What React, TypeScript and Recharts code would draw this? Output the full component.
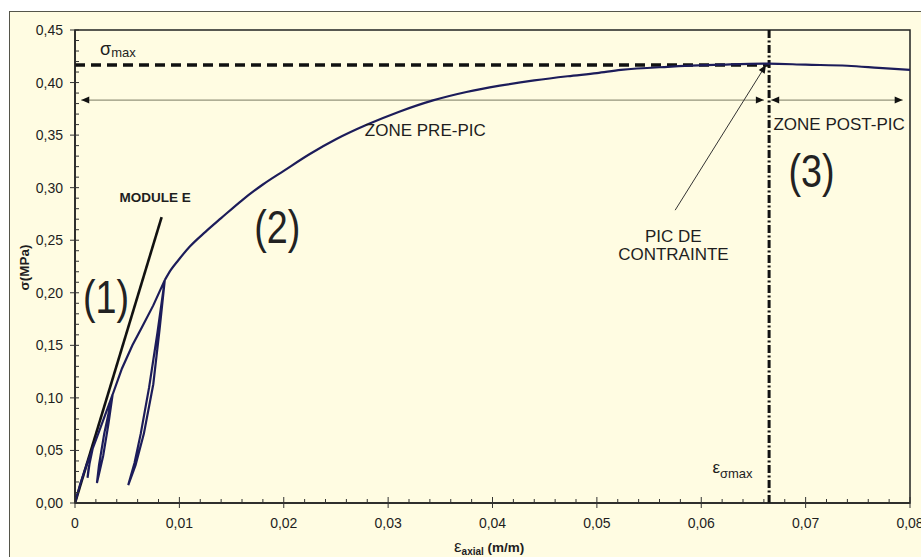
import React from 'react';
import { LineChart, Line, XAxis, YAxis, ReferenceLine, ReferenceDot, ReferenceArea } from 'recharts';

// ---- data ----
// loading path with unload/reload loops (eps [m/m], sigma [MPa])
const loopPath: [number, number][] = [
  [0, 0], [0.0005, 0.018], [0.0011, 0.036], [0.0017, 0.052],
  [0.0014, 0.038], [0.0012, 0.024], [0.0013, 0.033], [0.0017, 0.052],
  [0.0023, 0.068], [0.0029, 0.084], [0.0036, 0.103],
  [0.0032, 0.075], [0.0027, 0.045], [0.0021, 0.019],
  [0.0023, 0.036], [0.0028, 0.066], [0.0036, 0.103],
  [0.0045, 0.128], [0.0055, 0.15], [0.0064, 0.167], [0.0075, 0.188], [0.0086, 0.212],
  [0.0081, 0.165], [0.0075, 0.113], [0.0066, 0.066], [0.0058, 0.036], [0.0051, 0.017],
  [0.0057, 0.038], [0.0063, 0.066], [0.0071, 0.11], [0.0079, 0.162], [0.0086, 0.212],
];
// smooth envelope after the last loop
const envelope: [number, number][] = [
  [0.0086, 0.212], [0.0092, 0.222], [0.0099, 0.231], [0.011, 0.244], [0.0125, 0.258],
  [0.014, 0.271], [0.016, 0.288], [0.018, 0.303], [0.02, 0.316], [0.0225, 0.332],
  [0.025, 0.346], [0.028, 0.36], [0.031, 0.372], [0.0343, 0.383], [0.0375, 0.391],
  [0.0407, 0.397], [0.044, 0.402], [0.0472, 0.406], [0.05, 0.409], [0.0523, 0.412],
  [0.0568, 0.415], [0.062, 0.417], [0.0664, 0.418], [0.07, 0.417], [0.074, 0.416],
  [0.077, 0.414], [0.08, 0.412],
];
const moduleLine: [number, number][] = [[0, 0], [0.0083, 0.272]];
const sigmaMax = 0.4167;
const epsSigmaMax = 0.0665;
const zoneArrowY = 0.3833;
const preZone: [number, number] = [0.0006, 0.066];
const postZone: [number, number] = [0.0667, 0.0793];
const peakArrow: [number, number][] = [[0.0575, 0.2786], [0.0662, 0.4167]];

const xLabels = ['0', '0,01', '0,02', '0,03', '0,04', '0,05', '0,06', '0,07', '0,08'];
const yLabels = ['0,00', '0,05', '0,10', '0,15', '0,20', '0,25', '0,30', '0,35', '0,40', '0,45'];
const xTicks = Array.from({ length: 41 }, (_, i) => Number((i * 0.002).toFixed(3)));
const yTicks = Array.from({ length: 46 }, (_, i) => Number((i * 0.01).toFixed(2)));

const textNotes = [
  { e: 0.03356, s: 0.349, t: 'ZONE PRE-PIC', anchor: 'middle', size: 17, weight: 400 },
  { e: 0.06692, s: 0.3548, t: 'ZONE POST-PIC', anchor: 'start', size: 17, weight: 400 },
  { e: 0.00767, s: 0.2862, t: 'MODULE E', anchor: 'middle', size: 13.5, weight: 700 },
  { e: 0.05733, s: 0.2481, t: 'PIC DE', anchor: 'middle', size: 17, weight: 400 },
  { e: 0.05733, s: 0.231, t: 'CONTRAINTE', anchor: 'middle', size: 17, weight: 400 },
];
const zoneNumbers = [
  { e: 0.00297, s: 0.1805, t: '(1)' },
  { e: 0.01937, s: 0.2476, t: '(2)' },
  { e: 0.07057, s: 0.3005, t: '(3)' },
];

const FONT = "'Liberation Sans', Arial, sans-serif";
const INK = '#1e1e1e';

const toObjs = (arr: [number, number][]) => arr.map(([e, s]) => ({ e, s }));

const XTick = (props: any) => {
  const { x, y, payload } = props;
  const v = payload.value as number;
  const idx = Math.round(v * 100);
  const major = Math.abs(v * 100 - idx) < 1e-6;
  return (
    <g>
      <line x1={x} x2={x} y1={major ? y - 6 : y - 4} y2={major ? y + 5 : y + 1} stroke="#333" strokeWidth={1} />
      {major && (
        <text x={x} y={y + 25} textAnchor="middle" fontSize={14} fill={INK} fontFamily={FONT}>
          {xLabels[idx]}
        </text>
      )}
    </g>
  );
};

const YTick = (props: any) => {
  const { x, y, payload } = props;
  const v = payload.value as number;
  const idx = Math.round(v * 100);
  const major = idx % 5 === 0;
  return (
    <g>
      <line x1={major ? x - 5 : x} x2={x + 4} y1={y} y2={y} stroke="#333" strokeWidth={1} />
      {major && (
        <text x={x - 12} y={y + 5} textAnchor="end" fontSize={14} fill={INK} fontFamily={FONT}>
          {yLabels[idx / 5]}
        </text>
      )}
    </g>
  );
};

const head = (x: number, y: number, ang: number, len = 8, half = 3.5) => {
  const c = Math.cos(ang), s = Math.sin(ang);
  const bx = x - len * c, by = y - len * s;
  return `M${x},${y} L${bx - half * s},${by + half * c} L${bx + half * s},${by - half * c} Z`;
};

const ArrowShape = (both: boolean, color: string) => (p: any) => {
  const { x1, y1, x2, y2 } = p;
  const ang = Math.atan2(y2 - y1, x2 - x1);
  return (
    <g>
      <line x1={x1} y1={y1} x2={x2} y2={y2} stroke={color} strokeWidth={1} />
      <path d={head(x2, y2, ang)} fill="#111" />
      {both && <path d={head(x1, y1, ang + Math.PI)} fill="#111" />}
    </g>
  );
};

export default function App() {
  return (
    <div style={{ position: 'absolute', left: 0, top: 0, width: 921, height: 557, overflow: 'hidden', background: '#fff' }}>
      <div
        style={{
          position: 'absolute', left: 9, top: 11, width: 940, height: 570,
          background: '#FFFCE2', borderLeft: '1.5px solid #55554a', borderTop: '1.5px solid #55554a',
        }}
      />
      <div style={{ position: 'absolute', left: 0, top: 0 }}>
        <LineChart width={921} height={557} margin={{ top: 30, right: 11, left: 0, bottom: 0 }}>
          <XAxis
            dataKey="e" type="number" domain={[0, 0.08]} ticks={xTicks} interval={0}
            tick={XTick} tickLine={false} tickSize={0} tickMargin={0} height={54}
            axisLine={{ stroke: '#222', strokeWidth: 1.5 }} allowDataOverflow
            label={{
              content: (lp: any) => {
                const vb = lp.viewBox || { x: 75, y: 503, width: 835 };
                return (
                  <text x={vb.x + 379} y={vb.y + 49} fontFamily={FONT} fontWeight={700} fill={INK}>
                    <tspan fontSize={17} fontWeight={400}>ε</tspan>
                    <tspan fontSize={10} dy={3}>axial</tspan>
                    <tspan fontSize={13.5} dy={-3}> (m/m)</tspan>
                  </text>
                );
              },
            }}
          />
          <YAxis
            dataKey="s" type="number" domain={[0, 0.45]} ticks={yTicks} interval={0}
            tick={YTick} tickLine={false} tickSize={0} tickMargin={0} width={75}
            axisLine={{ stroke: '#222', strokeWidth: 1.5 }} allowDataOverflow
            label={{
              content: (lp: any) => {
                const vb = lp.viewBox || { x: 0, y: 30, width: 75, height: 473 };
                const cx = vb.x + 24;
                const cy = vb.y + vb.height / 2 + 1;
                return (
                  <text x={cx} y={cy} transform={`rotate(-90, ${cx}, ${cy})`} textAnchor="middle"
                    dominantBaseline="central" fontFamily={FONT} fontWeight={700} fontSize={13.5} fill={INK}>
                    σ(MPa)
                  </text>
                );
              },
            }}
          />
          <ReferenceArea x1={0} x2={0.08} y1={0} y2={0.45} fill="none" stroke="#222" strokeWidth={1.5} />

          <ReferenceLine
            segment={[{ x: 0, y: sigmaMax }, { x: epsSigmaMax - 0.0001, y: sigmaMax }]}
            stroke="#111" strokeWidth={3.5} strokeDasharray="10 6"
          />
          <ReferenceLine x={epsSigmaMax} stroke="#111" strokeWidth={3} strokeDasharray="8 2.5 2 2.5" />

          <ReferenceLine
            segment={[{ x: preZone[0], y: zoneArrowY }, { x: preZone[1], y: zoneArrowY }]}
            shape={ArrowShape(true, '#7a7a62')}
          />
          <ReferenceLine
            segment={[{ x: postZone[0], y: zoneArrowY }, { x: postZone[1], y: zoneArrowY }]}
            shape={ArrowShape(true, '#7a7a62')}
          />
          <ReferenceLine
            segment={[{ x: peakArrow[0][0], y: peakArrow[0][1] }, { x: peakArrow[1][0], y: peakArrow[1][1] }]}
            shape={ArrowShape(false, '#333')}
          />

          <Line data={toObjs(moduleLine)} dataKey="s" stroke="#111" strokeWidth={2.6} dot={false}
            activeDot={false} isAnimationActive={false} type="linear" />
          <Line data={toObjs(loopPath)} dataKey="s" stroke="#1c1c5a" strokeWidth={2.2} dot={false}
            activeDot={false} isAnimationActive={false} type="linear" />
          <Line data={toObjs(envelope)} dataKey="s" stroke="#1c1c5a" strokeWidth={2.2} dot={false}
            activeDot={false} isAnimationActive={false} type="monotone" />

          {textNotes.map((n, i) => (
            <ReferenceDot key={'t' + i} x={n.e} y={n.s} r={0}
              shape={(p: any) => (
                <text x={p.cx} y={p.cy} textAnchor={n.anchor as any} fontSize={n.size} fontWeight={n.weight}
                  fontFamily={FONT} fill={INK}>{n.t}</text>
              )}
            />
          ))}
          {zoneNumbers.map((n, i) => (
            <ReferenceDot key={'z' + i} x={n.e} y={n.s} r={0}
              shape={(p: any) => (
                <text x={0} y={0} transform={`translate(${p.cx},${p.cy}) scale(0.82,1)`} textAnchor="middle"
                  fontSize={46} fontFamily={FONT} fill="#222">{n.t}</text>
              )}
            />
          ))}
          <ReferenceDot x={0.0024} y={0.4262} r={0}
            shape={(p: any) => (
              <text x={p.cx} y={p.cy} fontFamily={FONT} fill={INK}>
                <tspan fontSize={18}>σ</tspan>
                <tspan fontSize={13} dy={2}>max</tspan>
              </text>
            )}
          />
          <ReferenceDot x={0.06107} y={0.0281} r={0}
            shape={(p: any) => (
              <text x={p.cx} y={p.cy} fontFamily={FONT} fill={INK}>
                <tspan fontSize={17}>ε</tspan>
                <tspan fontSize={13} dy={5}>σmax</tspan>
              </text>
            )}
          />
        </LineChart>
      </div>
    </div>
  );
}
